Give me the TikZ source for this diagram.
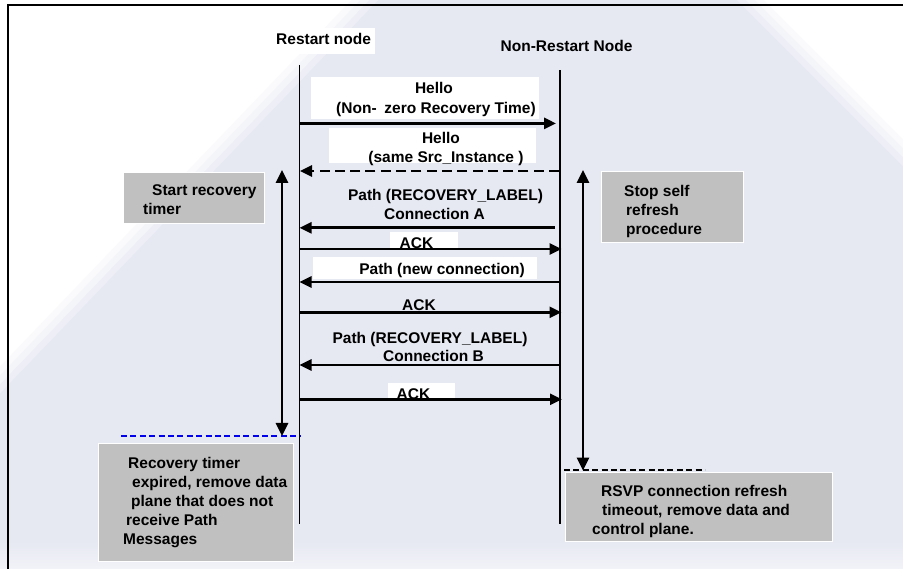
\documentclass[tikz,border=0pt]{standalone}
\usepackage{fontspec}
\setmainfont{Liberation Sans}
\usetikzlibrary{arrows.meta}
\definecolor{lav}{RGB}{230,232,242}
\definecolor{lavfoot}{RGB}{242,243,248}
\definecolor{boxgray}{RGB}{192,192,192}
\definecolor{timerblue}{RGB}{0,0,235}
\begin{document}
\begin{tikzpicture}[x=1pt,y=-1pt,
  txt/.style={font=\fontsize{15.5}{19}\selectfont\bfseries, inner sep=0pt, anchor=base},
  boxtxt/.style={font=\fontsize{15.5}{19}\selectfont\bfseries, inner sep=0pt, anchor=north west, align=left},
  notebox/.style={draw=white, line width=1.2pt, fill=boxgray, inner sep=0pt, anchor=north west},
  lifeline/.style={line width=1.5pt},
  msg/.style={line width=2.6pt, -{Triangle[length=12pt,width=11pt]}},
  dmsg/.style={msg, dash pattern=on 10pt off 5.3pt},
  timerspan/.style={line width=2.6pt, {Triangle[length=13pt,width=12pt]}-{Triangle[length=13pt,width=12pt]}},
  limitline/.style={line width=2pt, dash pattern=on 6pt off 3.4pt}
]
\useasboundingbox (0,0) rectangle (903,569);

% backdrop: white page with a soft-edged lavender field
\fill[white] (0,0) rectangle (903,569);
\foreach \d/\c in {-13.5/20, -4.5/45, 4.5/72, 13.5/100} {
  \fill[lav!\c!white] ({365+\d},0) -- (0,{380+\d}) -- (0,569) -- (903,569)
        -- (903,{153+\d}) -- ({750-\d},0) -- cycle;
}
\shade[top color=lav, bottom color=lavfoot] (0,540) rectangle (903,569);

% frame
\draw[line width=2pt] (7.7,569) -- (7.7,5) -- (903,5);

% white patches behind some labels
\fill[white] (262,28) rectangle (375,54);
\fill[white] (311,77) rectangle (539,119);
\fill[white] (329,128) rectangle (536,163);
\fill[white] (390,232) rectangle (458,250);
\fill[white] (313,257) rectangle (537,279);
\fill[white] (388,383) rectangle (455,400);

% participants
\node[txt, anchor=base west] (restart) at (276,45) {Restart node};
\node[txt, anchor=base west] (nonrestart) at (500.5,51.5) {Non-Restart Node};

% lifelines
\coordinate (Ltop) at (299.5,65);  \coordinate (Lbot) at (299.5,524);
\coordinate (Rtop) at (560,70.5);  \coordinate (Rbot) at (560,524);
\draw[lifeline] (Ltop) -- (Lbot);
\draw[lifeline] (Rtop) -- (Rbot);

% timer limits
\coordinate (blueA) at (121,435.7); \coordinate (blueB) at (300,435.7);
\coordinate (blackA) at (564,470);  \coordinate (blackB) at (705,470);
\draw[limitline, timerblue] (blueA) -- (blueB);
\draw[limitline, black] (blackA) -- (blackB);

% timer spans
\coordinate (ltA) at (282,170); \coordinate (ltB) at (282,436);
\coordinate (rtA) at (583,170); \coordinate (rtB) at (583,470.5);
\draw[timerspan] (ltA) -- (ltB);
\draw[timerspan] (rtA) -- (rtB);

% note boxes
\node[notebox, minimum width=141pt, minimum height=51pt] (startbox) at (123,172) {};
\node[notebox, minimum width=142pt, minimum height=71pt] (stopbox) at (601,171) {};
\node[notebox, minimum width=195pt, minimum height=118pt] (expirebox) at (98,443) {};
\node[notebox, minimum width=267pt, minimum height=69pt] (rsvpbox) at (565,472) {};

\node[boxtxt] (starttxt) at (143,184.7) {\hspace*{9pt}Start recovery\\timer};
\node[boxtxt] (stoptxt) at (624,184.7) {Stop self\\\hspace*{2pt}refresh\\\hspace*{2pt}procedure};
\node[boxtxt] (expiretxt) at (123,456.7) {\hspace*{5pt}Recovery timer\\\hspace*{9pt}expired, remove data\\\hspace*{8pt}plane that does not\\\hspace*{3pt}receive Path\\Messages};
\node[boxtxt] (rsvptxt) at (592,484.7) {\hspace*{9pt}RSVP connection refresh\\\hspace*{10pt}timeout, remove data and\\control plane.};

% message labels
\node[txt] (hello1) at (434,94) {Hello};
\node[txt] (hello1b) at (436,114) {(Non-\hspace{0.5em}zero Recovery Time)};
\node[txt] (hello2) at (441,144) {Hello};
\node[txt] (hello2b) at (446,162.5) {(same Src\_Instance )};
\node[txt] (pathA) at (445.5,200.4) {Path (RECOVERY\_LABEL)};
\node[txt] (connA) at (434.5,219.3) {Connection A};
\node[txt] (ack1) at (416.5,248.4) {ACK};
\node[txt] (pathN) at (442,274.4) {Path (new connection)};
\node[txt] (ack2) at (419,311) {ACK};
\node[txt] (pathB) at (430,343.4) {Path (RECOVERY\_LABEL)};
\node[txt] (connB) at (433.5,361.8) {Connection B};
\node[txt] (ack3) at (413.5,399.8) {ACK};

% messages
\coordinate (m1s) at (300,123.4);   \coordinate (m1e) at (556,123.4);
\coordinate (m2s) at (559,171);     \coordinate (m2e) at (300,171);
\coordinate (m3s) at (554.5,227.8); \coordinate (m3e) at (299.5,227.8);
\coordinate (m4s) at (300,249);     \coordinate (m4e) at (561.5,249);
\coordinate (m5s) at (560,282);     \coordinate (m5e) at (299.5,282);
\coordinate (m6s) at (299.5,312.3); \coordinate (m6e) at (561.5,312.3);
\coordinate (m7s) at (560,365);     \coordinate (m7e) at (299.5,365);
\coordinate (m8s) at (299.5,399.3); \coordinate (m8e) at (562,399.3);
\draw[msg] (m1s) -- (m1e);
\draw[dmsg] (m2s) -- (m2e);
\draw[msg] (m3s) -- (m3e);
\draw[msg] (m4s) -- (m4e);
\draw[msg] (m5s) -- (m5e);
\draw[msg] (m6s) -- (m6e);
\draw[msg] (m7s) -- (m7e);
\draw[msg] (m8s) -- (m8e);
\end{tikzpicture}
\end{document}
